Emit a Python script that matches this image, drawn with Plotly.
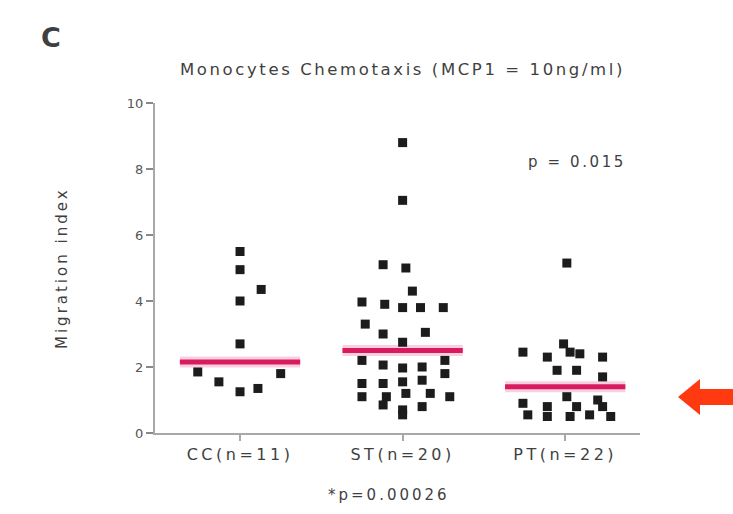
import plotly.graph_objects as go

# ---- data -------------------------------------------------------------
groups = ["CC(n=11)", "ST(n=20)", "PT(n=22)"]
group_pos = [1, 2, 3]

cc_values = [5.5, 4.95, 4.35, 4.0, 2.7, 1.85, 1.55, 1.25, 1.35, 1.8]
cc_jitter = [0.0, 0.0, 0.13, 0.0, 0.0, -0.26, -0.13, 0.0, 0.11, 0.25]

st_values = [8.8, 7.05, 5.1, 5.0,
             4.3, 3.97, 3.9, 3.8, 3.8, 3.8,
             3.3, 3.0, 2.75, 3.05,
             2.2, 2.06, 1.97, 2.0, 2.2,
             1.5, 1.5, 1.55, 1.6, 1.8,
             1.1, 1.1, 1.2, 1.2, 1.1,
             0.85, 0.7, 0.8, 0.55]
st_jitter = [0.0, 0.0, -0.12, 0.02,
             0.06, -0.25, -0.11, 0.0, 0.11, 0.25,
             -0.23, -0.12, 0.0, 0.14,
             -0.25, -0.12, 0.0, 0.12, 0.26,
             -0.25, -0.12, 0.0, 0.12, 0.26,
             -0.25, -0.1, 0.02, 0.17, 0.29,
             -0.12, 0.0, 0.12, 0.0]

pt_values = [5.15, 2.7, 2.45, 2.3, 2.45, 2.4, 2.3, 1.9, 1.9, 1.7,
             0.9, 0.8, 1.1, 0.8, 1.0, 0.8, 0.55, 0.5, 0.5, 0.55, 0.5]
pt_jitter = [0.01, -0.01, -0.26, -0.11, 0.03, 0.09, 0.23, -0.05, 0.07, 0.23,
             -0.26, -0.11, 0.01, 0.07, 0.2, 0.23, -0.23, -0.11, 0.03, 0.15, 0.28]

medians = [2.15, 2.5, 1.4]
y_ticks = [0, 2, 4, 6, 8, 10]

title_text = "Monocytes Chemotaxis (MCP1 = 10ng/ml)"
p_text = "p = 0.015"
p_text_bottom = "*p=0.00026"
y_title = "Migration index"

# ---- layout geometry (pixels) ------------------------------------------
W, H = 733, 514
L, R, T, B = 155, 640, 103, 433
FONT = "DejaVu Sans"
TXT = "#3f3f3f"


def px(x, y):
    """Pixel position -> paper coordinates."""
    return (x - L) / (R - L), (B - y) / (B - T)


def spaced(s, gap):
    """Wrap text in a span with extra letter spacing."""
    return f'<span style="letter-spacing:{gap}px">{s}</span>'


fig = go.Figure()

# median bars: soft halo under a solid crimson stroke
half = 0.37
for pos, m in zip(group_pos, medians):
    fig.add_trace(go.Scatter(x=[pos - half, pos + half], y=[m, m], mode="lines",
                             line=dict(color="rgba(240,120,160,0.35)", width=11),
                             hoverinfo="skip", showlegend=False))
    fig.add_trace(go.Scatter(x=[pos - half, pos + half], y=[m, m], mode="lines",
                             line=dict(color="#d81b5f", width=5),
                             showlegend=False))

for pos, vals, jit in [(1, cc_values, cc_jitter),
                       (2, st_values, st_jitter),
                       (3, pt_values, pt_jitter)]:
    fig.add_trace(go.Scatter(
        x=[pos + j for j in jit], y=vals, mode="markers",
        marker=dict(symbol="square", size=9, color="#1c1c1c",
                    line=dict(width=0)),
        cliponaxis=False, showlegend=False))

axis_col = "#a8a8a8"
fig.update_xaxes(range=[0.477, 3.46], tickvals=group_pos,
                 ticktext=[spaced(g, 3.5) for g in groups],
                 showline=True, linecolor=axis_col, linewidth=2,
                 ticks="outside", tickcolor=axis_col, ticklen=6, tickwidth=2,
                 showgrid=False, zeroline=False,
                 tickfont=dict(family=FONT, size=16, color=TXT))
fig.update_yaxes(range=[0, 10], tickvals=y_ticks,
                 showline=True, linecolor=axis_col, linewidth=2,
                 ticks="outside", tickcolor="#888", ticklen=7, tickwidth=2,
                 showgrid=False, zeroline=False,
                 tickfont=dict(family=FONT, size=13, color="#555"))

annots = []


def note(x, y, text, size, **kw):
    ax, ay = px(x, y)
    annots.append(dict(x=ax, y=ay, xref="paper", yref="paper", text=text,
                       showarrow=False, xanchor="center", yanchor="middle",
                       font=dict(family=FONT, size=size, color=TXT), **kw))


note(51, 38, "<b>C</b>", 27)
note(402, 70, spaced(title_text, 2.6), 16.5)
note(577, 162, spaced(p_text, 2.6), 15)
note(389, 495, spaced(p_text_bottom, 3), 15)
note(62, 268, spaced(y_title, 3), 15, textangle=-90)

# red pointer arrow at the right edge
arrow_px = [(678, 397), (700, 379), (700, 389), (733, 389),
            (733, 405), (700, 405), (700, 415)]
pts = [px(x, y) for x, y in arrow_px]
path = "M " + " L ".join(f"{x:.4f},{y:.4f}" for x, y in pts) + " Z"

fig.update_layout(
    width=W, height=H,
    margin=dict(l=L, r=W - R, t=T, b=H - B),
    plot_bgcolor="white", paper_bgcolor="white",
    annotations=annots,
    shapes=[dict(type="path", path=path, xref="paper", yref="paper",
                 fillcolor="#ff3a10", line=dict(width=0))],
)

fig.write_html("out.html")
